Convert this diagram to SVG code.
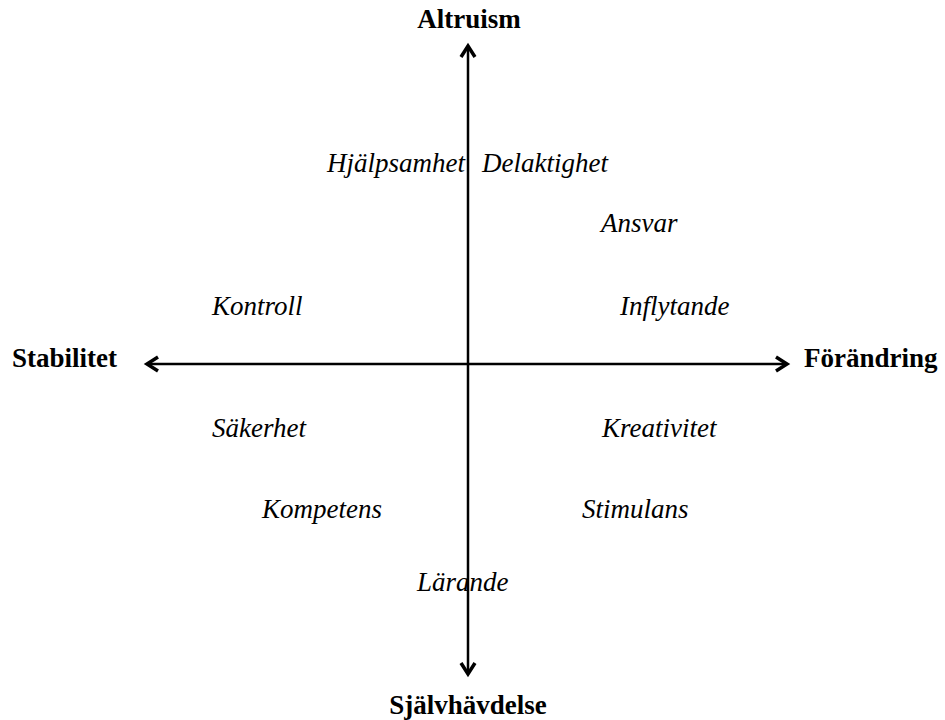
<svg xmlns="http://www.w3.org/2000/svg" width="945" height="720" viewBox="0 0 945 720">
<style>
.axis{font-family:"Liberation Serif","Times New Roman",serif;font-weight:bold;font-size:27px;fill:#000}
.val{font-family:"Liberation Serif","Times New Roman",serif;font-style:italic;font-size:27px;fill:#000}
.line{stroke:#000;stroke-width:2.5;fill:none}
.head{stroke:#000;stroke-width:3.5;fill:none;stroke-linejoin:miter;stroke-linecap:butt}
</style>
<rect width="945" height="720" fill="#fff"/>
<g id="connectors">
<line class="line" x1="468" y1="47" x2="468" y2="674"/>
<line class="line" x1="148" y1="364" x2="786" y2="364"/>
<polyline class="head" points="461,57 468,46 475,57"/>
<polyline class="head" points="461,663 468,674 475,663"/>
<polyline class="head" points="158,357 147,364 158,371"/>
<polyline class="head" points="776,357 787,364 776,371"/>
</g>
<g id="altruism"><text class="axis" x="469" y="28" text-anchor="middle">Altruism</text></g>
<g id="sjalvhavdelse"><text class="axis" x="468" y="714" text-anchor="middle">Självhävdelse</text></g>
<g id="stabilitet"><text class="axis" x="12" y="367">Stabilitet</text></g>
<g id="forandring"><text class="axis" x="804" y="367">Förändring</text></g>
<g id="hjalpsamhet"><text class="val" x="327" y="172">Hjälpsamhet</text></g>
<g id="delaktighet"><text class="val" x="482" y="172">Delaktighet</text></g>
<g id="ansvar"><text class="val" x="601" y="232">Ansvar</text></g>
<g id="kontroll"><text class="val" x="212" y="315">Kontroll</text></g>
<g id="inflytande"><text class="val" x="620" y="315">Inflytande</text></g>
<g id="sakerhet"><text class="val" x="212" y="437">Säkerhet</text></g>
<g id="kreativitet"><text class="val" x="602" y="437">Kreativitet</text></g>
<g id="kompetens"><text class="val" x="262" y="518">Kompetens</text></g>
<g id="stimulans"><text class="val" x="582" y="518">Stimulans</text></g>
<g id="larande"><text class="val" x="417" y="591">Lärande</text></g>
</svg>
